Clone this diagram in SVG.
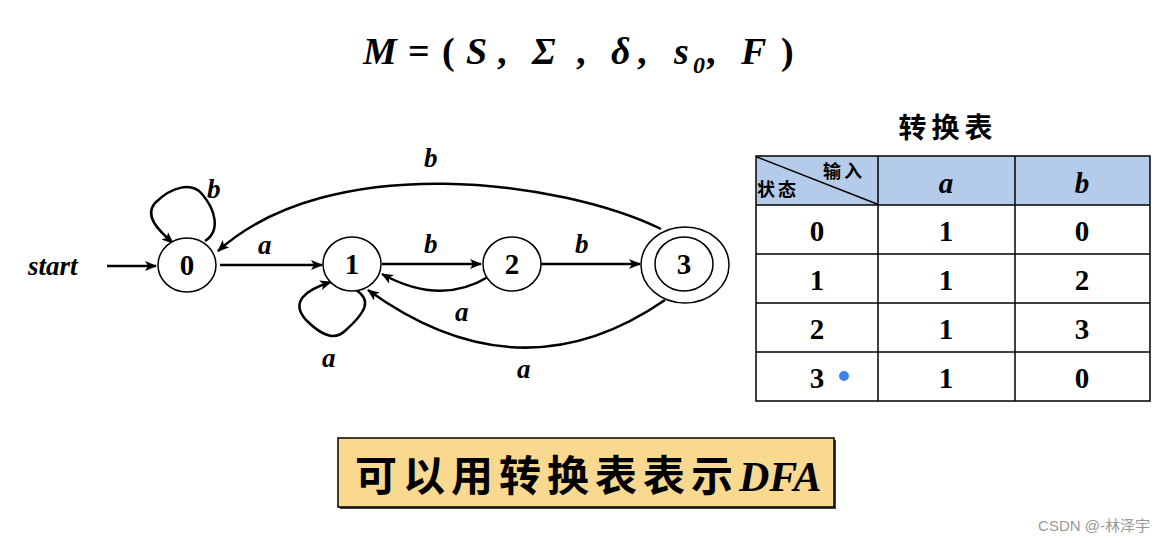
<svg xmlns="http://www.w3.org/2000/svg" width="1164" height="543" viewBox="0 0 1164 543">
<style>
.st{fill:#fff;stroke:#000;stroke-width:1.5}
.lbl{font-family:"Liberation Serif",serif;font-weight:bold;font-style:italic;font-size:27px;fill:#000}
.num{font-family:"Liberation Serif",serif;font-weight:bold;font-size:29px;fill:#000;text-anchor:middle}
.cn{font-family:"Noto Sans CJK SC",sans-serif;font-weight:bold;fill:#000}
.e{fill:none;stroke:#000;stroke-width:2.5;marker-end:url(#ah)}
.g{stroke:#000;stroke-width:1.5}
</style>
<defs>
<marker id="ah" viewBox="0 0 12 10" refX="11" refY="5" markerWidth="12" markerHeight="10" markerUnits="userSpaceOnUse" orient="auto">
<path d="M0,0 L12,5 L0,10 L3,5 z" fill="#000"/>
</marker>
</defs>
<rect width="1164" height="543" fill="#fff"/>
<text x="363" y="64" font-family="Liberation Serif,serif" font-weight="bold" font-style="italic" font-size="38">M<tspan x="408" font-style="normal">=</tspan><tspan x="442" font-style="normal">(</tspan><tspan x="466">S</tspan><tspan x="497" font-style="normal">,</tspan><tspan x="532">Σ</tspan><tspan x="576" font-style="normal">,</tspan><tspan x="611">δ</tspan><tspan x="637" font-style="normal">,</tspan><tspan x="674">s</tspan><tspan x="693" dy="9" font-size="24">0</tspan><tspan x="706" dy="-9" font-style="normal">,</tspan><tspan x="741">F</tspan><tspan x="781" font-style="normal">)</tspan></text>
<g id="connectors">
<path class="e" d="M107,266 L156,266"/>
<text class="lbl" x="28" y="275">start</text>
<path class="e" d="M220,265 L322,265"/>
<text class="lbl" x="258" y="254">a</text>
<path class="e" d="M382,264 L481,264"/>
<text class="lbl" x="424" y="253">b</text>
<path class="e" d="M541,264 L640,264"/>
<text class="lbl" x="575" y="253">b</text>
<path class="e" d="M488,277 Q440,306 382,274"/>
<text class="lbl" x="455" y="321">a</text>
<path class="e" d="M665,300 Q520,400 368,290"/>
<text class="lbl" x="517" y="378">a</text>
<path class="e" d="M661,229 C560,180 330,150 218,251"/>
<text class="lbl" x="424" y="167">b</text>
<path class="e" d="M205,241 C222,230 214,208 202,194 C192,182 172,186 155,203 C144,216 158,230 173,243"/>
<text class="lbl" x="207" y="198">b</text>
<path class="e" d="M356,290 C372,300 366,312 346,330 C336,340 324,338 306,320 C290,302 305,290 331,282"/>
<text class="lbl" x="322" y="367">a</text>
</g>
<g id="n0"><ellipse class="st" cx="187" cy="265" rx="29" ry="27"/><text class="num" x="187" y="275">0</text></g>
<g id="n1"><ellipse class="st" cx="352" cy="264" rx="29" ry="27"/><text class="num" x="352" y="274">1</text></g>
<g id="n2"><ellipse class="st" cx="512" cy="264" rx="29" ry="27"/><text class="num" x="512" y="274">2</text></g>
<g id="n3"><ellipse class="st" cx="685" cy="265" rx="44" ry="38"/><ellipse class="st" cx="684" cy="264" rx="29" ry="27"/><text class="num" x="684" y="274">3</text></g>
<g id="table">
<text class="cn" x="948" y="138" font-size="28" text-anchor="middle" letter-spacing="5">转换表</text>
<rect x="756" y="156" width="394" height="49" fill="#b4cbea"/>
<rect x="756" y="156" width="394" height="245" fill="none" class="g"/>
<line class="g" x1="878" y1="156" x2="878" y2="401"/>
<line class="g" x1="1015" y1="156" x2="1015" y2="401"/>
<line class="g" x1="756" y1="205" x2="1150" y2="205"/>
<line class="g" x1="756" y1="254" x2="1150" y2="254"/>
<line class="g" x1="756" y1="303" x2="1150" y2="303"/>
<line class="g" x1="756" y1="352" x2="1150" y2="352"/>
<line class="g" x1="757" y1="157" x2="877" y2="204"/>
<text class="cn" x="823" y="178" font-size="18" letter-spacing="3">输入</text>
<text class="cn" x="757" y="196" font-size="18" letter-spacing="3">状态</text>
<text class="lbl num" x="946" y="193" font-size="30">a</text>
<text class="lbl num" x="1082" y="193" font-size="30">b</text>
<text class="num" x="817" y="241">0</text><text class="num" x="946" y="241">1</text><text class="num" x="1082" y="241">0</text>
<text class="num" x="817" y="290">1</text><text class="num" x="946" y="290">1</text><text class="num" x="1082" y="290">2</text>
<text class="num" x="817" y="339">2</text><text class="num" x="946" y="339">1</text><text class="num" x="1082" y="339">3</text>
<text class="num" x="817" y="388">3</text><text class="num" x="946" y="388">1</text><text class="num" x="1082" y="388">0</text>
<circle cx="844" cy="376" r="5" fill="#3b82f0"/>
</g>
<g id="note">
<rect x="340" y="440" width="496" height="69" fill="#444"/>
<rect x="338" y="438" width="496" height="69" fill="#f8d98f" stroke="#000" stroke-width="1.5"/>
<text x="355" y="491" font-size="42"><tspan class="cn" letter-spacing="6">可以用转换表表示</tspan><tspan font-family="Liberation Serif,serif" font-weight="bold" font-style="italic">DFA</tspan></text>
</g>
<text x="1150" y="531" font-family="Liberation Sans,sans-serif" font-size="15" fill="#999" text-anchor="end">CSDN @-<tspan font-family="Noto Sans CJK SC,sans-serif">林泽宇</tspan></text>
</svg>
